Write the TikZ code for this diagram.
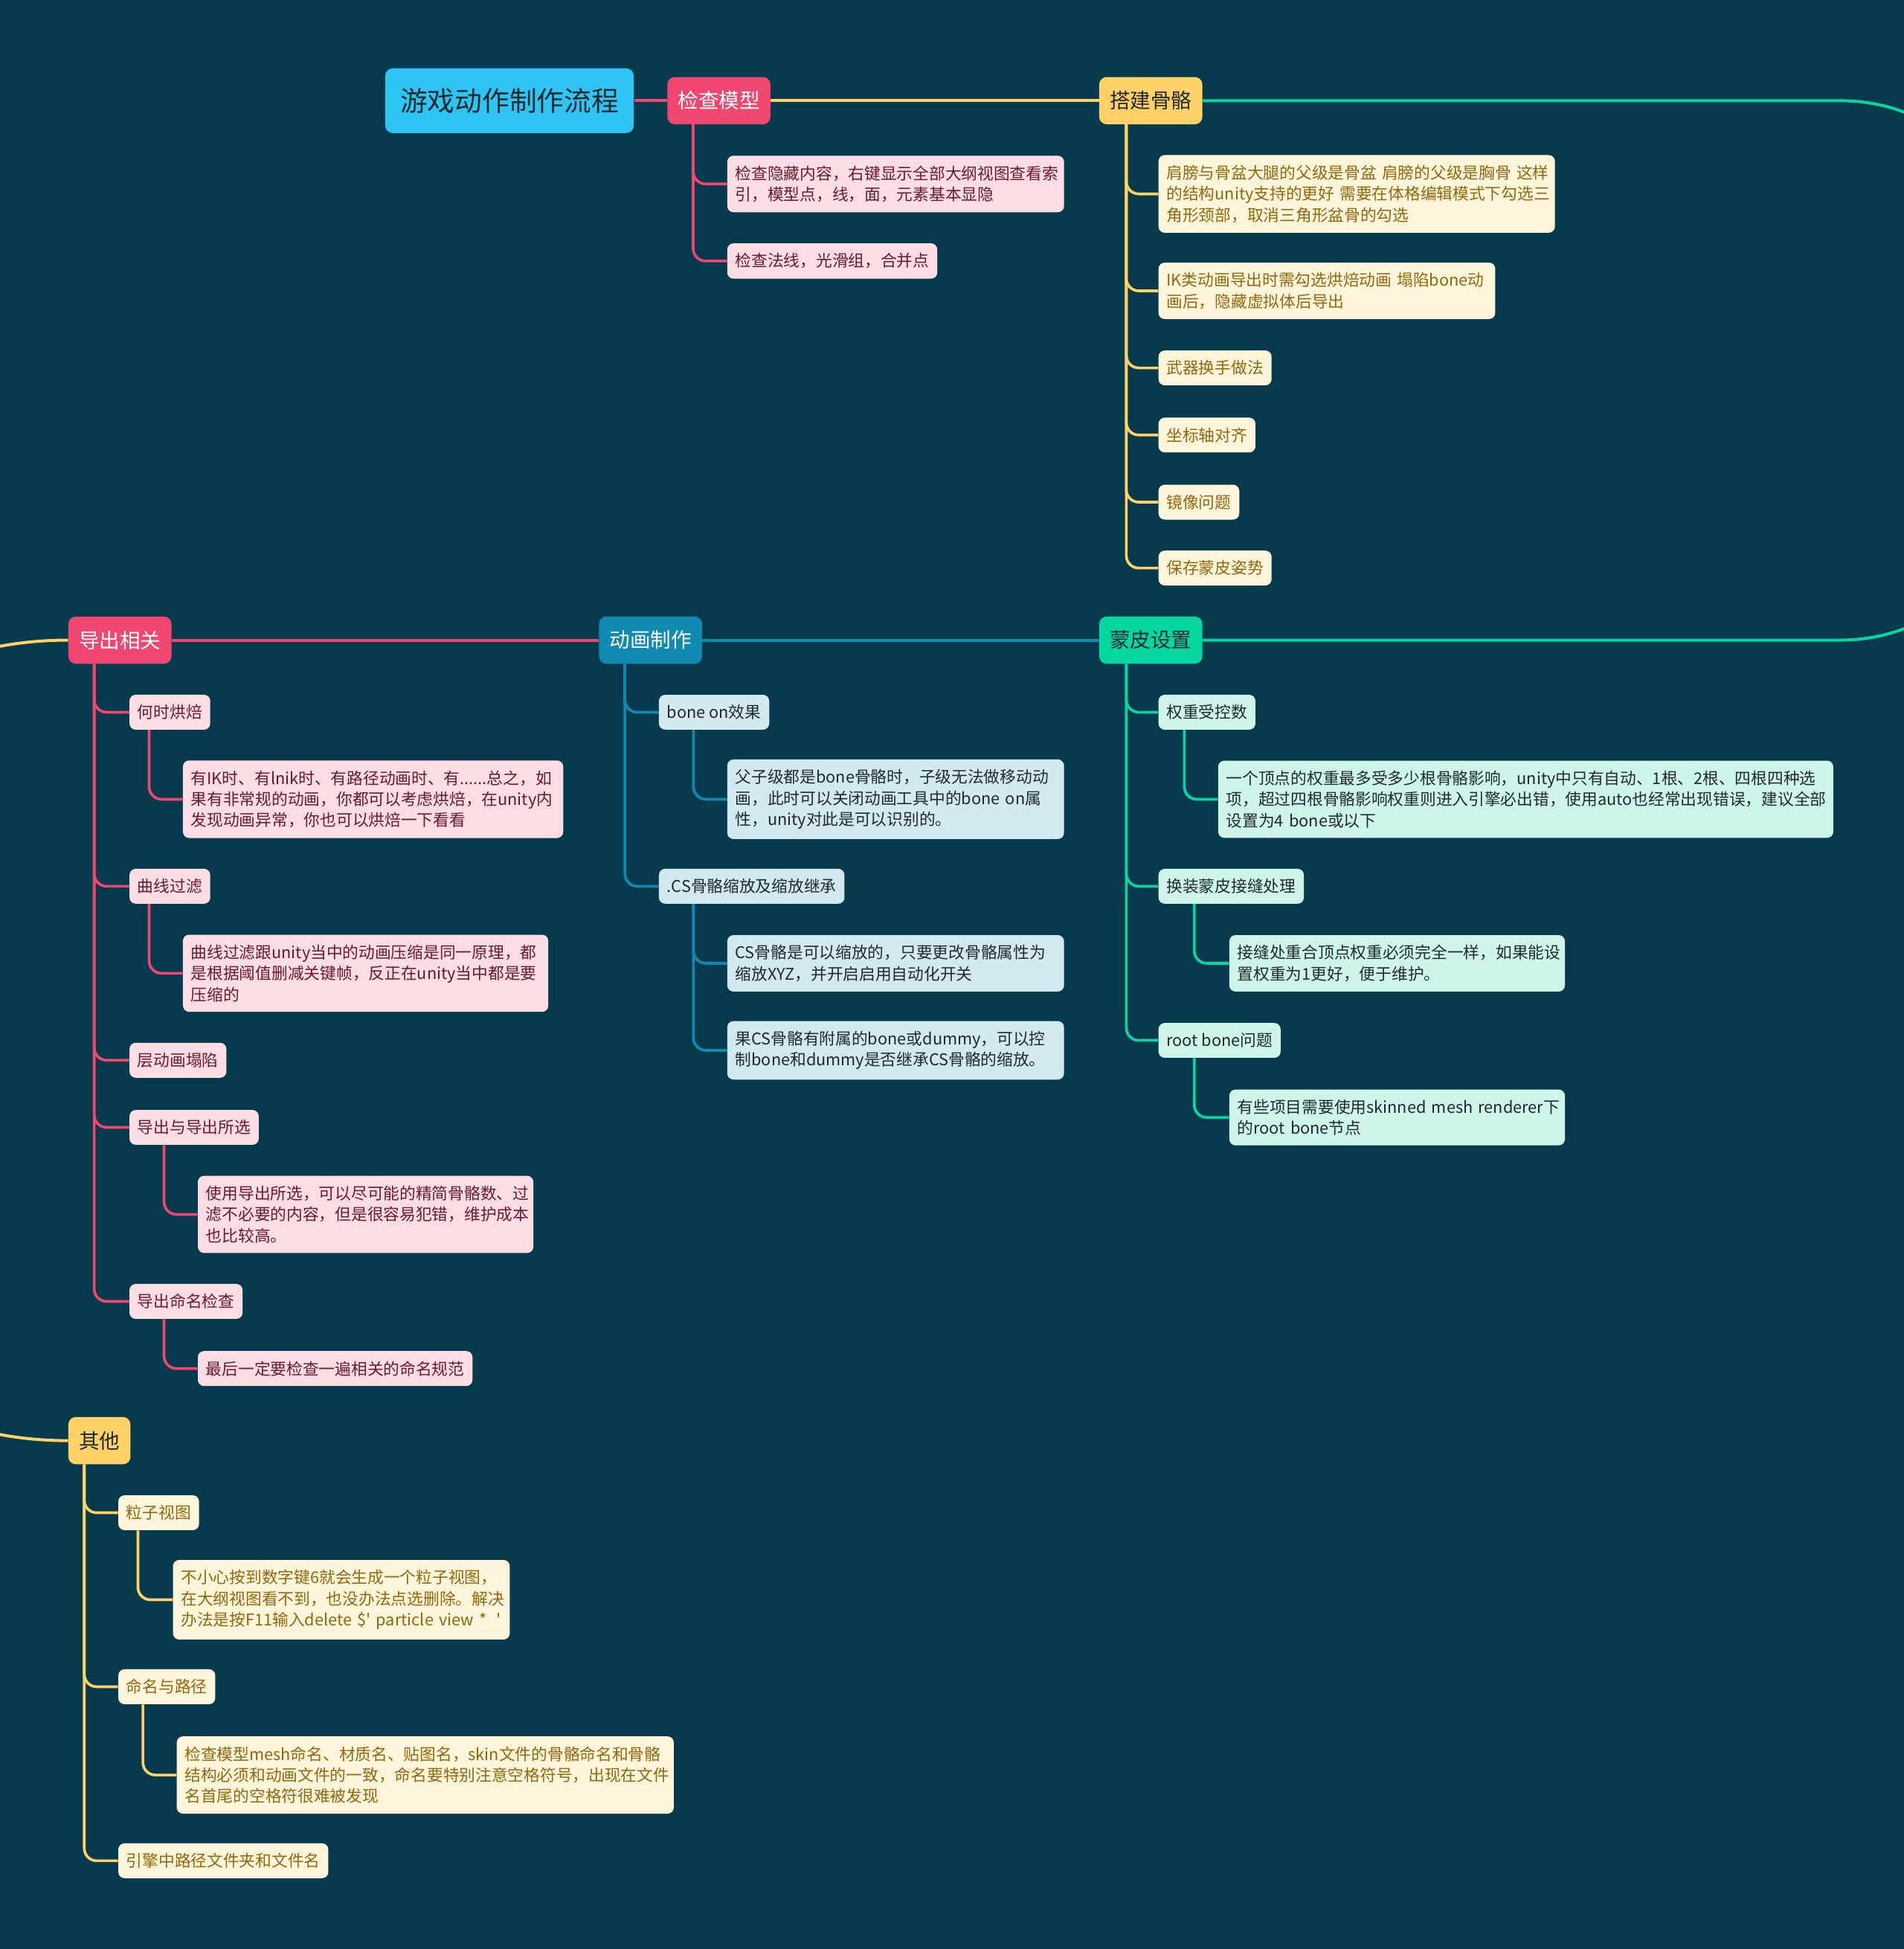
\documentclass[tikz,border=0pt]{standalone}
\usepackage{fontspec}
\setmainfont{Noto Sans CJK SC}
\hyphenpenalty=10000
\exhyphenpenalty=10000
\definecolor{bg}{HTML}{073A4D}
\definecolor{rootc}{HTML}{2EC5F4}
\definecolor{pinkc}{HTML}{EF476F}
\definecolor{pinklt}{HTML}{FCDDE4}
\definecolor{pinktx}{HTML}{6B1A2C}
\definecolor{yelc}{HTML}{FFD166}
\definecolor{yellt}{HTML}{FFF5DB}
\definecolor{yeltx}{HTML}{93670D}
\definecolor{bluec}{HTML}{118AB2}
\definecolor{bluelt}{HTML}{D3E9F0}
\definecolor{grnc}{HTML}{06D6A0}
\definecolor{grnlt}{HTML}{CFF5EA}
\definecolor{darktx}{HTML}{1E2A30}
\tikzset{
  topic/.style={rounded corners=6pt, inner xsep=8.5pt, inner ysep=0pt, minimum height=38pt,
    font=\fontsize{16.5}{20}\selectfont},
  item/.style={rounded corners=5pt, inner xsep=6.5pt, inner ysep=8pt, minimum height=28pt,
    align=left, anchor=west, font=\fontsize{13}{17}\selectfont},
  pinkitem/.style={item, fill=pinklt, text=pinktx},
  yelitem/.style={item, fill=yellt, text=yeltx},
  blueitem/.style={item, fill=bluelt, text=darktx},
  grnitem/.style={item, fill=grnlt, text=darktx},
  mainline/.style={line width=2.4pt},
  link/.style={line width=2.2pt, rounded corners=10pt},
}
\begin{document}
\begin{tikzpicture}[x=1pt,y=-1pt]
\useasboundingbox (0,0) rectangle (1532,1568);
\fill[bg] (0,0) rectangle (1532,1568);
\clip (0,0) rectangle (1532,1568);

% root and first row
\node[fill=rootc, text=darktx, rounded corners=6pt, minimum width=200pt, minimum height=52pt,
  font=\fontsize{22}{26}\selectfont] (root) at (410,81) {游戏动作制作流程};
\node[topic, fill=pinkc, text=white] (jiancha) at (578.5,81) {检查模型};
\node[topic, fill=yelc, text=darktx] (dajian) at (926,81) {搭建骨骼};

% second row
\node[topic, fill=pinkc, text=white] (daochu) at (96.5,515) {导出相关};
\node[topic, fill=bluec, text=white] (donghua) at (523.5,515) {动画制作};
\node[topic, fill=grnc, text=darktx] (mengpi) at (926,515) {蒙皮设置};

% third row
\node[topic, fill=yelc, text=darktx] (qita) at (80,1159) {其他};

\draw[mainline, pinkc] (root.east) -- (jiancha.west);
\draw[mainline, yelc] (jiancha.east) -- (dajian.west);
\draw[mainline, grnc] (dajian.east) -- (1480,81) .. controls (1700,81) and (1700,515) .. (1480,515) -- (mengpi.east);
\draw[mainline, bluec] (mengpi.west) -- (donghua.east);
\draw[mainline, pinkc] (donghua.west) -- (daochu.east);
\draw[mainline, yelc] (daochu.west) .. controls (-320,515) and (-320,1159) .. (qita.west);

% 检查模型
\node[pinkitem, text width=258pt] (jc1) at (585,148) {检查隐藏内容，右键显示全部大纲视图查看索\\引，模型点，线，面，元素基本显隐};
\node[pinkitem] (jc2) at (585,210) {检查法线，光滑组，合并点};
\draw[link, pinkc] ([xshift=21pt]jiancha.south west) |- (jc1.west);
\draw[link, pinkc] ([xshift=21pt]jiancha.south west) |- (jc2.west);

% 搭建骨骼
\node[yelitem, text width=306pt] (dj1) at (932,156) {肩膀与骨盆大腿的父级是骨盆~肩膀的父级是胸骨~这样\\的结构unity支持的更好~需要在体格编辑模式下勾选三\\角形颈部，取消三角形盆骨的勾选};
\node[yelitem, text width=258pt] (dj2) at (932,234) {IK类动画导出时需勾选烘焙动画~塌陷bone动\\画后，隐藏虚拟体后导出};
\node[yelitem] (dj3) at (932,296) {武器换手做法};
\node[yelitem] (dj4) at (932,350) {坐标轴对齐};
\node[yelitem] (dj5) at (932,404) {镜像问题};
\node[yelitem] (dj6) at (932,457) {保存蒙皮姿势};
\draw[link, yelc] ([xshift=22pt]dajian.south west) |- (dj1.west);
\draw[link, yelc] ([xshift=22pt]dajian.south west) |- (dj2.west);
\draw[link, yelc] ([xshift=22pt]dajian.south west) |- (dj3.west);
\draw[link, yelc] ([xshift=22pt]dajian.south west) |- (dj4.west);
\draw[link, yelc] ([xshift=22pt]dajian.south west) |- (dj5.west);
\draw[link, yelc] ([xshift=22pt]dajian.south west) |- (dj6.west);

% 导出相关
\node[pinkitem] (dc1) at (104,573) {何时烘焙};
\node[pinkitem, text width=293pt] (dc1a) at (147,643) {有IK时、有lnik时、有路径动画时、有......总之，如\\果有非常规的动画，你都可以考虑烘焙，在unity内\\发现动画异常，你也可以烘焙一下看看};
\node[pinkitem] (dc2) at (104,713) {曲线过滤};
\node[pinkitem, text width=281pt] (dc2a) at (147,783) {曲线过滤跟unity当中的动画压缩是同一原理，都\\是根据阈值删减关键帧，反正在unity当中都是要\\压缩的};
\node[pinkitem] (dc3) at (104,853) {层动画塌陷};
\node[pinkitem] (dc4) at (104,907) {导出与导出所选};
\node[pinkitem, text width=257pt] (dc4a) at (159,977) {使用导出所选，可以尽可能的精简骨骼数、过\\滤不必要的内容，但是很容易犯错，维护成本\\也比较高。};
\node[pinkitem] (dc5) at (104,1047) {导出命名检查};
\node[pinkitem] (dc5a) at (159,1101) {最后一定要检查一遍相关的命名规范};
\draw[link, pinkc] ([xshift=21pt]daochu.south west) |- (dc1.west);
\draw[link, pinkc] ([xshift=21pt]daochu.south west) |- (dc2.west);
\draw[link, pinkc] ([xshift=21pt]daochu.south west) |- (dc3.west);
\draw[link, pinkc] ([xshift=21pt]daochu.south west) |- (dc4.west);
\draw[link, pinkc] ([xshift=21pt]daochu.south west) |- (dc5.west);
\draw[link, pinkc] ([xshift=16pt]dc1.south west) |- (dc1a.west);
\draw[link, pinkc] ([xshift=16pt]dc2.south west) |- (dc2a.west);
\draw[link, pinkc] ([xshift=28pt]dc4.south west) |- (dc4a.west);
\draw[link, pinkc] ([xshift=28pt]dc5.south west) |- (dc5a.west);

% 动画制作
\node[blueitem] (dh1) at (530,573) {bone on效果};
\node[blueitem, text width=258pt] (dh1a) at (585,643) {父子级都是bone骨骼时，子级无法做移动动\\画，此时可以关闭动画工具中的bone~on属\\性，unity对此是可以识别的。};
\node[blueitem] (dh2) at (530,713) {.CS骨骼缩放及缩放继承};
\node[blueitem, text width=258pt] (dh2a) at (585,775) {CS骨骼是可以缩放的，只要更改骨骼属性为\\缩放XYZ，并开启启用自动化开关};
\node[blueitem, text width=258pt] (dh2b) at (585,845) {果CS骨骼有附属的bone或dummy，可以控\\制bone和dummy是否继承CS骨骼的缩放。};
\draw[link, bluec] ([xshift=21pt]donghua.south west) |- (dh1.west);
\draw[link, bluec] ([xshift=21pt]donghua.south west) |- (dh2.west);
\draw[link, bluec] ([xshift=28pt]dh1.south west) |- (dh1a.west);
\draw[link, bluec] ([xshift=28pt]dh2.south west) |- (dh2a.west);
\draw[link, bluec] ([xshift=28pt]dh2.south west) |- (dh2b.west);

% 蒙皮设置
\node[grnitem] (mp1) at (932,573) {权重受控数};
\node[grnitem, text width=482pt] (mp1a) at (980,643) {一个顶点的权重最多受多少根骨骼影响，unity中只有自动、1根、2根、四根四种选\\项，超过四根骨骼影响权重则进入引擎必出错，使用auto也经常出现错误，建议全部\\设置为4~bone或以下};
\node[grnitem] (mp2) at (932,713) {换装蒙皮接缝处理};
\node[grnitem, text width=257pt] (mp2a) at (989,775) {接缝处重合顶点权重必须完全一样，如果能设\\置权重为1更好，便于维护。};
\node[grnitem] (mp3) at (932,837) {root bone问题};
\node[grnitem, text width=257pt] (mp3a) at (989,899) {有些项目需要使用skinned~mesh~renderer下\\的root~bone节点};
\draw[link, grnc] ([xshift=22pt]mengpi.south west) |- (mp1.west);
\draw[link, grnc] ([xshift=22pt]mengpi.south west) |- (mp2.west);
\draw[link, grnc] ([xshift=22pt]mengpi.south west) |- (mp3.west);
\draw[link, grnc] ([xshift=21pt]mp1.south west) |- (mp1a.west);
\draw[link, grnc] ([xshift=29pt]mp2.south west) |- (mp2a.west);
\draw[link, grnc] ([xshift=29pt]mp3.south west) |- (mp3a.west);

% 其他
\node[yelitem] (qt1) at (95,1217) {粒子视图};
\node[yelitem, text width=258pt] (qt1a) at (139,1287) {不小心按到数字键6就会生成一个粒子视图，\\在大纲视图看不到，也没办法点选删除。解决\\办法是按F11输入delete~\$\textquotesingle~particle~view~*\hspace{8pt}\textquotesingle};
\node[yelitem] (qt2) at (95,1357) {命名与路径};
\node[yelitem, text width=387pt] (qt2a) at (142,1428) {检查模型mesh命名、材质名、贴图名，skin文件的骨骼命名和骨骼\\结构必须和动画文件的一致，命名要特别注意空格符号，出现在文件\\名首尾的空格符很难被发现};
\node[yelitem] (qt3) at (95,1497) {引擎中路径文件夹和文件名};
\draw[link, yelc] ([xshift=13pt]qita.south west) |- (qt1.west);
\draw[link, yelc] ([xshift=13pt]qita.south west) |- (qt2.west);
\draw[link, yelc] ([xshift=13pt]qita.south west) |- (qt3.west);
\draw[link, yelc] ([xshift=16pt]qt1.south west) |- (qt1a.west);
\draw[link, yelc] ([xshift=20pt]qt2.south west) |- (qt2a.west);
\end{tikzpicture}
\end{document}
